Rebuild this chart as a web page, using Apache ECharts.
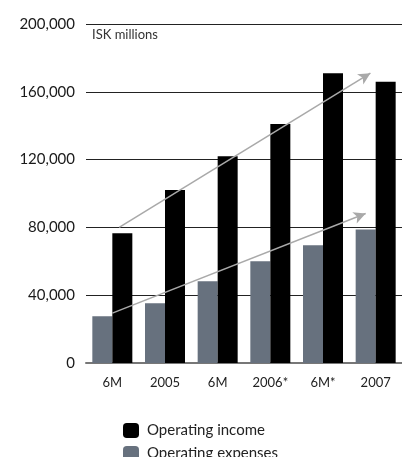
<!DOCTYPE html>
<html>
<head>
<meta charset="utf-8">
<script src="https://cdn.jsdelivr.net/npm/echarts@6/dist/echarts.min.js"></script>
<style>
html,body{margin:0;padding:0;background:#fff;}
#chart{width:402px;height:457px;}
</style>
</head>
<body>
<div id="chart"></div>
<script>
var categories = ['6M', '2005', '6M', '2006*', '6M*', '2007'];
var operatingExpenses = [27600, 35300, 48200, 60000, 69400, 78800];
var operatingIncome = [76500, 102000, 122000, 141000, 171000, 166000];
var yTicks = [0, 40000, 80000, 120000, 160000, 200000];
// trend arrows: [x (category position), value]
var incomeArrow = [[0.13, 80000], [4.9, 171000]];
var expensesArrow = [[0, 29400], [4.81, 88200]];

var chart = echarts.init(document.getElementById('chart'), null, {renderer: 'canvas'});
var font = 'Lato, "Open Sans", sans-serif';
var legendText = {fontSize: 15, color: '#222', fontFamily: font, padding: [0, 0, 0, 3]};
chart.setOption({
  animation: false,
  backgroundColor: '#fff',
  textStyle: {fontFamily: font},
  title: {
    text: 'ISK millions', left: 87, top: 23,
    textStyle: {fontSize: 13, fontWeight: 'normal', color: '#333', fontFamily: font}
  },
  legend: [{
    left: 118, top: 418, padding: 5,
    itemWidth: 16, itemHeight: 15, itemGap: 4,
    data: ['Operating income'], textStyle: legendText
  }, {
    left: 118, top: 441, padding: 5,
    itemWidth: 16, itemHeight: 15, itemGap: 4,
    data: ['Operating expenses'], textStyle: legendText
  }],
  grid: {left: 86, top: 24, width: 324, height: 339, containLabel: false},
  xAxis: [{
    type: 'category', data: categories,
    axisLine: {show: true, lineStyle: {color: '#777', width: 2}},
    axisTick: {show: false},
    axisLabel: {interval: 0, fontSize: 13, color: '#222', margin: 13, fontFamily: font}
  }, {
    type: 'value', min: -0.5, max: 5.5, show: false
  }],
  yAxis: {
    type: 'value', min: yTicks[0], max: yTicks[yTicks.length-1], interval: 40000,
    axisLine: {show: false}, axisTick: {show: false},
    splitLine: {lineStyle: {color: '#222', width: 1.2}},
    axisLabel: {fontSize: 15, color: '#1a1a1a', margin: 11, fontFamily: font,
      formatter: function (v) { return v.toLocaleString('en-US'); }}
  },
  series: [{
    name: 'Operating expenses', type: 'bar', data: operatingExpenses,
    barWidth: 20, barGap: '0%', itemStyle: {color: '#67717e'}
  }, {
    name: 'Operating income', type: 'bar', data: operatingIncome,
    barWidth: 20, barGap: '0%', itemStyle: {color: '#000'}
  }, {
    name: 'arrows', type: 'line', xAxisIndex: 1, data: [], silent: true,
    markLine: {
      silent: true, symbol: ['none', 'arrow'], symbolSize: [9, 12],
      label: {show: false},
      lineStyle: {color: '#a9a9a9', width: 1.5, type: 'solid'},
      data: [
        [{coord: incomeArrow[0]}, {coord: incomeArrow[1]}],
        [{coord: expensesArrow[0]}, {coord: expensesArrow[1]}]
      ]
    }
  }]
});
</script>
</body>
</html>
